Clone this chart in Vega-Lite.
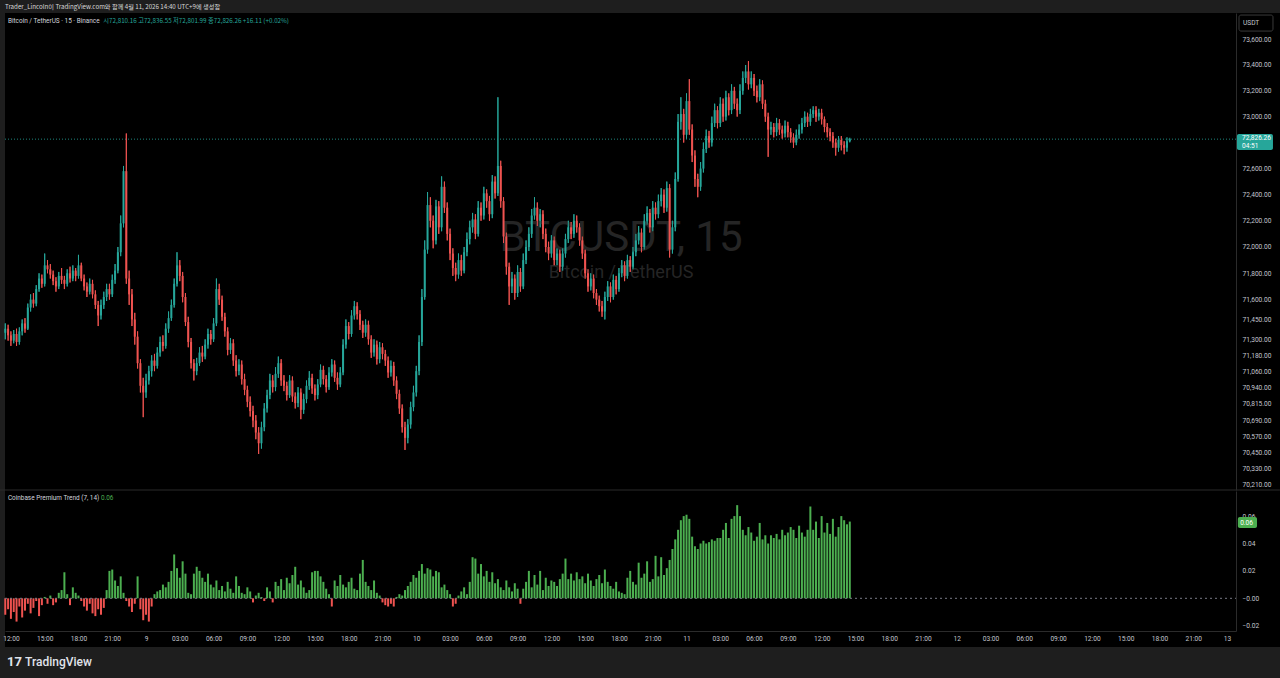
{
"$schema": "https://vega.github.io/schema/vega-lite/v6.json",
"width": 1275,
"height": 634,
"autosize": {"type": "none"},
"padding": {"left": 5, "top": 13, "right": 0, "bottom": 31},
"background": "#1e1e1e",
"config": {"view": {"fill": "#000000", "stroke": null}, "font": "Roboto", "axis": {"grid": false}},
"title": {"text": "Trader_Lincoln이 TradingView.com와 함께 4월 11, 2026 14:40 UTC+9에 생성함", "anchor": "start", "frame": "group", "offset": 3, "fontSize": 6.2, "font": "Noto Sans CJK KR", "fontWeight": "normal", "color": "#d8d8d8"},
"data": {"values": [
{"t":"2026-04-08T11:30Z","o":71350,"h":71420,"l":71300,"c":71380,"p":-0.012},
{"t":"2026-04-08T11:45Z","o":71380,"h":71410,"l":71290,"c":71330,"p":-0.008},
{"t":"2026-04-08T12:00Z","o":71330,"h":71360,"l":71250,"c":71290,"p":-0.015},
{"t":"2026-04-08T12:15Z","o":71290,"h":71370,"l":71270,"c":71340,"p":-0.01},
{"t":"2026-04-08T12:30Z","o":71340,"h":71380,"l":71250,"c":71280,"p":-0.017},
{"t":"2026-04-08T12:45Z","o":71280,"h":71390,"l":71260,"c":71360,"p":-0.006},
{"t":"2026-04-08T13:00Z","o":71360,"h":71450,"l":71330,"c":71420,"p":-0.014},
{"t":"2026-04-08T13:15Z","o":71420,"h":71460,"l":71350,"c":71380,"p":-0.009},
{"t":"2026-04-08T13:30Z","o":71380,"h":71570,"l":71370,"c":71540,"p":-0.004},
{"t":"2026-04-08T13:45Z","o":71540,"h":71640,"l":71510,"c":71600,"p":-0.011},
{"t":"2026-04-08T14:00Z","o":71600,"h":71650,"l":71540,"c":71570,"p":-0.007},
{"t":"2026-04-08T14:15Z","o":71570,"h":71710,"l":71550,"c":71680,"p":-0.002},
{"t":"2026-04-08T14:30Z","o":71680,"h":71800,"l":71660,"c":71760,"p":-0.013},
{"t":"2026-04-08T14:45Z","o":71760,"h":71790,"l":71690,"c":71720,"p":-0.005},
{"t":"2026-04-08T15:00Z","o":71720,"h":71950,"l":71700,"c":71860,"p":0.001},
{"t":"2026-04-08T15:15Z","o":71860,"h":71900,"l":71800,"c":71830,"p":-0.004},
{"t":"2026-04-08T15:30Z","o":71830,"h":71870,"l":71760,"c":71790,"p":0.002},
{"t":"2026-04-08T15:45Z","o":71790,"h":71820,"l":71710,"c":71740,"p":-0.005},
{"t":"2026-04-08T16:00Z","o":71740,"h":71770,"l":71660,"c":71700,"p":-0.003},
{"t":"2026-04-08T16:15Z","o":71700,"h":71810,"l":71680,"c":71780,"p":0.004},
{"t":"2026-04-08T16:30Z","o":71780,"h":71840,"l":71720,"c":71750,"p":0.006},
{"t":"2026-04-08T16:45Z","o":71750,"h":71780,"l":71680,"c":71720,"p":0.019},
{"t":"2026-04-08T17:00Z","o":71720,"h":71830,"l":71700,"c":71800,"p":0.003},
{"t":"2026-04-08T17:15Z","o":71800,"h":71850,"l":71730,"c":71760,"p":-0.005},
{"t":"2026-04-08T17:30Z","o":71760,"h":71860,"l":71740,"c":71820,"p":0.008},
{"t":"2026-04-08T17:45Z","o":71820,"h":71840,"l":71740,"c":71780,"p":0.004},
{"t":"2026-04-08T18:00Z","o":71780,"h":71940,"l":71760,"c":71860,"p":0.002},
{"t":"2026-04-08T18:15Z","o":71860,"h":71880,"l":71740,"c":71760,"p":-0.002},
{"t":"2026-04-08T18:30Z","o":71760,"h":71790,"l":71670,"c":71700,"p":-0.006},
{"t":"2026-04-08T18:45Z","o":71700,"h":71730,"l":71620,"c":71660,"p":-0.009},
{"t":"2026-04-08T19:00Z","o":71660,"h":71760,"l":71640,"c":71720,"p":-0.004},
{"t":"2026-04-08T19:15Z","o":71720,"h":71750,"l":71610,"c":71640,"p":-0.011},
{"t":"2026-04-08T19:30Z","o":71640,"h":71670,"l":71530,"c":71560,"p":-0.013},
{"t":"2026-04-08T19:45Z","o":71560,"h":71590,"l":71400,"c":71480,"p":-0.008},
{"t":"2026-04-08T20:00Z","o":71480,"h":71600,"l":71450,"c":71560,"p":-0.012},
{"t":"2026-04-08T20:15Z","o":71560,"h":71660,"l":71530,"c":71620,"p":-0.007},
{"t":"2026-04-08T20:30Z","o":71620,"h":71720,"l":71590,"c":71680,"p":0.006},
{"t":"2026-04-08T20:45Z","o":71680,"h":71720,"l":71600,"c":71640,"p":0.02},
{"t":"2026-04-08T21:00Z","o":71640,"h":71790,"l":71620,"c":71750,"p":0.021},
{"t":"2026-04-08T21:15Z","o":71750,"h":71870,"l":71720,"c":71820,"p":0.013},
{"t":"2026-04-08T21:30Z","o":71820,"h":72000,"l":71800,"c":71960,"p":0.009},
{"t":"2026-04-08T21:45Z","o":71960,"h":72240,"l":71930,"c":72180,"p":0.016},
{"t":"2026-04-08T22:00Z","o":72180,"h":72620,"l":72150,"c":72580,"p":0.004},
{"t":"2026-04-08T22:15Z","o":72580,"h":72870,"l":71720,"c":71760,"p":-0.002},
{"t":"2026-04-08T22:30Z","o":71760,"h":71820,"l":71560,"c":71640,"p":-0.006},
{"t":"2026-04-08T22:45Z","o":71640,"h":71680,"l":71400,"c":71450,"p":-0.01},
{"t":"2026-04-08T23:00Z","o":71450,"h":71500,"l":71260,"c":71320,"p":-0.004},
{"t":"2026-04-08T23:15Z","o":71320,"h":71360,"l":71080,"c":71120,"p":0.016},
{"t":"2026-04-08T23:30Z","o":71120,"h":71150,"l":70900,"c":70950,"p":-0.008},
{"t":"2026-04-08T23:45Z","o":70950,"h":71010,"l":70715,"c":70900,"p":-0.016},
{"t":"2026-04-09T00:00Z","o":70900,"h":71040,"l":70860,"c":70990,"p":-0.012},
{"t":"2026-04-09T00:15Z","o":70990,"h":71100,"l":70960,"c":71060,"p":-0.017},
{"t":"2026-04-09T00:30Z","o":71060,"h":71180,"l":71020,"c":71140,"p":-0.006},
{"t":"2026-04-09T00:45Z","o":71140,"h":71190,"l":71060,"c":71100,"p":0.003},
{"t":"2026-04-09T01:00Z","o":71100,"h":71240,"l":71080,"c":71200,"p":0.005},
{"t":"2026-04-09T01:15Z","o":71200,"h":71320,"l":71170,"c":71280,"p":0.006},
{"t":"2026-04-09T01:30Z","o":71280,"h":71330,"l":71210,"c":71250,"p":0.01},
{"t":"2026-04-09T01:45Z","o":71250,"h":71420,"l":71230,"c":71380,"p":0.008},
{"t":"2026-04-09T02:00Z","o":71380,"h":71510,"l":71350,"c":71460,"p":0.012},
{"t":"2026-04-09T02:15Z","o":71460,"h":71600,"l":71440,"c":71560,"p":0.02},
{"t":"2026-04-09T02:30Z","o":71560,"h":71760,"l":71540,"c":71720,"p":0.032},
{"t":"2026-04-09T02:45Z","o":71720,"h":71960,"l":71700,"c":71860,"p":0.022},
{"t":"2026-04-09T03:00Z","o":71860,"h":71900,"l":71740,"c":71780,"p":0.015},
{"t":"2026-04-09T03:15Z","o":71780,"h":71810,"l":71580,"c":71620,"p":0.027},
{"t":"2026-04-09T03:30Z","o":71620,"h":71650,"l":71400,"c":71430,"p":0.018},
{"t":"2026-04-09T03:45Z","o":71430,"h":71470,"l":71240,"c":71280,"p":0.004},
{"t":"2026-04-09T04:00Z","o":71280,"h":71310,"l":71080,"c":71120,"p":0.003},
{"t":"2026-04-09T04:15Z","o":71120,"h":71150,"l":70990,"c":71060,"p":0.018},
{"t":"2026-04-09T04:30Z","o":71060,"h":71160,"l":71030,"c":71120,"p":0.023},
{"t":"2026-04-09T04:45Z","o":71120,"h":71240,"l":71100,"c":71200,"p":0.02},
{"t":"2026-04-09T05:00Z","o":71200,"h":71250,"l":71130,"c":71170,"p":0.015},
{"t":"2026-04-09T05:15Z","o":71170,"h":71300,"l":71150,"c":71260,"p":0.012},
{"t":"2026-04-09T05:30Z","o":71260,"h":71380,"l":71230,"c":71340,"p":0.018},
{"t":"2026-04-09T05:45Z","o":71340,"h":71370,"l":71260,"c":71300,"p":0.01},
{"t":"2026-04-09T06:00Z","o":71300,"h":71460,"l":71280,"c":71420,"p":0.008},
{"t":"2026-04-09T06:15Z","o":71420,"h":71760,"l":71400,"c":71680,"p":0.013},
{"t":"2026-04-09T06:30Z","o":71680,"h":71720,"l":71560,"c":71600,"p":0.006},
{"t":"2026-04-09T06:45Z","o":71600,"h":71630,"l":71440,"c":71470,"p":0.009},
{"t":"2026-04-09T07:00Z","o":71470,"h":71500,"l":71320,"c":71360,"p":0.005},
{"t":"2026-04-09T07:15Z","o":71360,"h":71390,"l":71180,"c":71220,"p":0.012},
{"t":"2026-04-09T07:30Z","o":71220,"h":71310,"l":71190,"c":71270,"p":0.007},
{"t":"2026-04-09T07:45Z","o":71270,"h":71300,"l":71100,"c":71140,"p":0.004},
{"t":"2026-04-09T08:00Z","o":71140,"h":71180,"l":71020,"c":71060,"p":0.016},
{"t":"2026-04-09T08:15Z","o":71060,"h":71150,"l":71030,"c":71110,"p":0.009},
{"t":"2026-04-09T08:30Z","o":71110,"h":71140,"l":70960,"c":71000,"p":0.004},
{"t":"2026-04-09T08:45Z","o":71000,"h":71040,"l":70880,"c":70920,"p":0.003},
{"t":"2026-04-09T09:00Z","o":70920,"h":70950,"l":70790,"c":70830,"p":0.008},
{"t":"2026-04-09T09:15Z","o":70830,"h":70870,"l":70720,"c":70760,"p":0.005},
{"t":"2026-04-09T09:30Z","o":70760,"h":70800,"l":70640,"c":70690,"p":-0.003},
{"t":"2026-04-09T09:45Z","o":70690,"h":70730,"l":70550,"c":70600,"p":0.002},
{"t":"2026-04-09T10:00Z","o":70600,"h":70640,"l":70440,"c":70520,"p":0.004},
{"t":"2026-04-09T10:15Z","o":70520,"h":70680,"l":70480,"c":70640,"p":0.001},
{"t":"2026-04-09T10:30Z","o":70640,"h":70820,"l":70610,"c":70780,"p":-0.002},
{"t":"2026-04-09T10:45Z","o":70780,"h":70920,"l":70750,"c":70880,"p":0.008},
{"t":"2026-04-09T11:00Z","o":70880,"h":71040,"l":70850,"c":70990,"p":0.005},
{"t":"2026-04-09T11:15Z","o":70990,"h":71030,"l":70900,"c":70940,"p":-0.003},
{"t":"2026-04-09T11:30Z","o":70940,"h":71090,"l":70910,"c":71040,"p":0.012},
{"t":"2026-04-09T11:45Z","o":71040,"h":71170,"l":71010,"c":71120,"p":0.009},
{"t":"2026-04-09T12:00Z","o":71120,"h":71150,"l":70950,"c":70990,"p":0.014},
{"t":"2026-04-09T12:15Z","o":70990,"h":71030,"l":70910,"c":70950,"p":0.006},
{"t":"2026-04-09T12:30Z","o":70950,"h":70980,"l":70840,"c":70880,"p":0.015},
{"t":"2026-04-09T12:45Z","o":70880,"h":71030,"l":70860,"c":70990,"p":0.011},
{"t":"2026-04-09T13:00Z","o":70990,"h":71020,"l":70830,"c":70870,"p":0.017},
{"t":"2026-04-09T13:15Z","o":70870,"h":70900,"l":70780,"c":70820,"p":0.023},
{"t":"2026-04-09T13:30Z","o":70820,"h":70940,"l":70790,"c":70900,"p":0.01},
{"t":"2026-04-09T13:45Z","o":70900,"h":70930,"l":70700,"c":70770,"p":0.013},
{"t":"2026-04-09T14:00Z","o":70770,"h":70890,"l":70740,"c":70850,"p":0.008},
{"t":"2026-04-09T14:15Z","o":70850,"h":70990,"l":70820,"c":70950,"p":0.004},
{"t":"2026-04-09T14:30Z","o":70950,"h":71060,"l":70920,"c":71010,"p":0.006},
{"t":"2026-04-09T14:45Z","o":71010,"h":71040,"l":70890,"c":70930,"p":0.019},
{"t":"2026-04-09T15:00Z","o":70930,"h":70960,"l":70840,"c":70880,"p":0.02},
{"t":"2026-04-09T15:15Z","o":70880,"h":71000,"l":70850,"c":70960,"p":0.02},
{"t":"2026-04-09T15:30Z","o":70960,"h":71110,"l":70940,"c":71070,"p":0.016},
{"t":"2026-04-09T15:45Z","o":71070,"h":71100,"l":70960,"c":71000,"p":0.012},
{"t":"2026-04-09T16:00Z","o":71000,"h":71030,"l":70900,"c":70940,"p":0.007},
{"t":"2026-04-09T16:15Z","o":70940,"h":71090,"l":70920,"c":71050,"p":0.003},
{"t":"2026-04-09T16:30Z","o":71050,"h":71150,"l":71020,"c":71110,"p":-0.006},
{"t":"2026-04-09T16:45Z","o":71110,"h":71140,"l":70980,"c":71010,"p":0.013},
{"t":"2026-04-09T17:00Z","o":71010,"h":71050,"l":70920,"c":70960,"p":0.009},
{"t":"2026-04-09T17:15Z","o":70960,"h":71090,"l":70940,"c":71050,"p":0.017},
{"t":"2026-04-09T17:30Z","o":71050,"h":71300,"l":71030,"c":71260,"p":0.01},
{"t":"2026-04-09T17:45Z","o":71260,"h":71450,"l":71230,"c":71400,"p":0.008},
{"t":"2026-04-09T18:00Z","o":71400,"h":71430,"l":71300,"c":71340,"p":0.012},
{"t":"2026-04-09T18:15Z","o":71340,"h":71520,"l":71320,"c":71480,"p":0.015},
{"t":"2026-04-09T18:30Z","o":71480,"h":71590,"l":71450,"c":71550,"p":0.007},
{"t":"2026-04-09T18:45Z","o":71550,"h":71580,"l":71450,"c":71490,"p":0.006},
{"t":"2026-04-09T19:00Z","o":71490,"h":71520,"l":71370,"c":71410,"p":0.018},
{"t":"2026-04-09T19:15Z","o":71410,"h":71440,"l":71310,"c":71350,"p":0.028},
{"t":"2026-04-09T19:30Z","o":71350,"h":71450,"l":71320,"c":71410,"p":0.012},
{"t":"2026-04-09T19:45Z","o":71410,"h":71440,"l":71260,"c":71300,"p":0.009},
{"t":"2026-04-09T20:00Z","o":71300,"h":71330,"l":71160,"c":71200,"p":0.006},
{"t":"2026-04-09T20:15Z","o":71200,"h":71300,"l":71170,"c":71260,"p":0.013},
{"t":"2026-04-09T20:30Z","o":71260,"h":71290,"l":71110,"c":71150,"p":0.004},
{"t":"2026-04-09T20:45Z","o":71150,"h":71280,"l":71120,"c":71240,"p":0.002},
{"t":"2026-04-09T21:00Z","o":71240,"h":71270,"l":71150,"c":71190,"p":-0.003},
{"t":"2026-04-09T21:15Z","o":71190,"h":71220,"l":71100,"c":71140,"p":-0.005},
{"t":"2026-04-09T21:30Z","o":71140,"h":71170,"l":71010,"c":71050,"p":-0.006},
{"t":"2026-04-09T21:45Z","o":71050,"h":71140,"l":71020,"c":71100,"p":-0.004},
{"t":"2026-04-09T22:00Z","o":71100,"h":71130,"l":70950,"c":70990,"p":-0.006},
{"t":"2026-04-09T22:15Z","o":70990,"h":71020,"l":70850,"c":70890,"p":0.001},
{"t":"2026-04-09T22:30Z","o":70890,"h":70920,"l":70740,"c":70780,"p":0.003},
{"t":"2026-04-09T22:45Z","o":70780,"h":70810,"l":70600,"c":70640,"p":0.002},
{"t":"2026-04-09T23:00Z","o":70640,"h":70680,"l":70470,"c":70560,"p":0.006},
{"t":"2026-04-09T23:15Z","o":70560,"h":70700,"l":70520,"c":70660,"p":0.009},
{"t":"2026-04-09T23:30Z","o":70660,"h":70830,"l":70630,"c":70790,"p":0.012},
{"t":"2026-04-09T23:45Z","o":70790,"h":70950,"l":70760,"c":70900,"p":0.017},
{"t":"2026-04-10T00:00Z","o":70900,"h":71100,"l":70870,"c":71060,"p":0.015},
{"t":"2026-04-10T00:15Z","o":71060,"h":71330,"l":71030,"c":71280,"p":0.02},
{"t":"2026-04-10T00:30Z","o":71280,"h":71680,"l":71250,"c":71620,"p":0.025},
{"t":"2026-04-10T00:45Z","o":71620,"h":72050,"l":71600,"c":71980,"p":0.018},
{"t":"2026-04-10T01:00Z","o":71980,"h":72420,"l":71950,"c":72320,"p":0.022},
{"t":"2026-04-10T01:15Z","o":72320,"h":72380,"l":72150,"c":72200,"p":0.021},
{"t":"2026-04-10T01:30Z","o":72200,"h":72240,"l":71990,"c":72050,"p":0.016},
{"t":"2026-04-10T01:45Z","o":72050,"h":72360,"l":72020,"c":72310,"p":0.02},
{"t":"2026-04-10T02:00Z","o":72310,"h":72350,"l":72100,"c":72150,"p":0.019},
{"t":"2026-04-10T02:15Z","o":72150,"h":72540,"l":72120,"c":72460,"p":0.008},
{"t":"2026-04-10T02:30Z","o":72460,"h":72500,"l":72260,"c":72300,"p":0.01},
{"t":"2026-04-10T02:45Z","o":72300,"h":72340,"l":72050,"c":72100,"p":0.006},
{"t":"2026-04-10T03:00Z","o":72100,"h":72140,"l":71900,"c":71950,"p":0.003},
{"t":"2026-04-10T03:15Z","o":71950,"h":71990,"l":71780,"c":71840,"p":-0.006},
{"t":"2026-04-10T03:30Z","o":71840,"h":71880,"l":71740,"c":71790,"p":-0.004},
{"t":"2026-04-10T03:45Z","o":71790,"h":71950,"l":71760,"c":71900,"p":0.002},
{"t":"2026-04-10T04:00Z","o":71900,"h":71940,"l":71780,"c":71820,"p":0.005},
{"t":"2026-04-10T04:15Z","o":71820,"h":72000,"l":71800,"c":71960,"p":0.008},
{"t":"2026-04-10T04:30Z","o":71960,"h":72110,"l":71930,"c":72060,"p":0.003},
{"t":"2026-04-10T04:45Z","o":72060,"h":72200,"l":72020,"c":72150,"p":0.012},
{"t":"2026-04-10T05:00Z","o":72150,"h":72260,"l":72110,"c":72210,"p":0.03},
{"t":"2026-04-10T05:15Z","o":72210,"h":72250,"l":72060,"c":72100,"p":0.029},
{"t":"2026-04-10T05:30Z","o":72100,"h":72350,"l":72080,"c":72300,"p":0.018},
{"t":"2026-04-10T05:45Z","o":72300,"h":72340,"l":72200,"c":72240,"p":0.025},
{"t":"2026-04-10T06:00Z","o":72240,"h":72460,"l":72210,"c":72410,"p":0.016},
{"t":"2026-04-10T06:15Z","o":72410,"h":72440,"l":72300,"c":72350,"p":0.02},
{"t":"2026-04-10T06:30Z","o":72350,"h":72390,"l":72200,"c":72250,"p":0.012},
{"t":"2026-04-10T06:45Z","o":72250,"h":72550,"l":72220,"c":72500,"p":0.019},
{"t":"2026-04-10T07:00Z","o":72500,"h":72540,"l":72370,"c":72410,"p":0.011},
{"t":"2026-04-10T07:15Z","o":72410,"h":73150,"l":72390,"c":72620,"p":0.014},
{"t":"2026-04-10T07:30Z","o":72620,"h":72660,"l":72300,"c":72350,"p":0.008},
{"t":"2026-04-10T07:45Z","o":72350,"h":72380,"l":72030,"c":72080,"p":0.006},
{"t":"2026-04-10T08:00Z","o":72080,"h":72110,"l":71790,"c":71850,"p":0.013},
{"t":"2026-04-10T08:15Z","o":71850,"h":71880,"l":71560,"c":71700,"p":0.008},
{"t":"2026-04-10T08:30Z","o":71700,"h":71810,"l":71650,"c":71760,"p":0.005},
{"t":"2026-04-10T08:45Z","o":71760,"h":71790,"l":71600,"c":71650,"p":0.011},
{"t":"2026-04-10T09:00Z","o":71650,"h":71860,"l":71620,"c":71810,"p":0.007},
{"t":"2026-04-10T09:15Z","o":71810,"h":71840,"l":71660,"c":71700,"p":-0.004},
{"t":"2026-04-10T09:30Z","o":71700,"h":71950,"l":71680,"c":71900,"p":0.007},
{"t":"2026-04-10T09:45Z","o":71900,"h":72050,"l":71870,"c":72000,"p":0.012},
{"t":"2026-04-10T10:00Z","o":72000,"h":72150,"l":71970,"c":72100,"p":0.02},
{"t":"2026-04-10T10:15Z","o":72100,"h":72290,"l":72070,"c":72240,"p":0.008},
{"t":"2026-04-10T10:30Z","o":72240,"h":72380,"l":72210,"c":72300,"p":0.017},
{"t":"2026-04-10T10:45Z","o":72300,"h":72340,"l":72160,"c":72200,"p":0.01},
{"t":"2026-04-10T11:00Z","o":72200,"h":72290,"l":72150,"c":72250,"p":0.02},
{"t":"2026-04-10T11:15Z","o":72250,"h":72280,"l":72060,"c":72100,"p":0.006},
{"t":"2026-04-10T11:30Z","o":72100,"h":72140,"l":71960,"c":72000,"p":0.015},
{"t":"2026-04-10T11:45Z","o":72000,"h":72040,"l":71900,"c":71950,"p":0.009},
{"t":"2026-04-10T12:00Z","o":71950,"h":72090,"l":71920,"c":72050,"p":0.013},
{"t":"2026-04-10T12:15Z","o":72050,"h":72080,"l":71860,"c":71900,"p":0.012},
{"t":"2026-04-10T12:30Z","o":71900,"h":71990,"l":71860,"c":71950,"p":0.009},
{"t":"2026-04-10T12:45Z","o":71950,"h":71980,"l":71810,"c":71850,"p":0.014},
{"t":"2026-04-10T13:00Z","o":71850,"h":71990,"l":71820,"c":71950,"p":0.018},
{"t":"2026-04-10T13:15Z","o":71950,"h":72100,"l":71920,"c":72060,"p":0.029},
{"t":"2026-04-10T13:30Z","o":72060,"h":72200,"l":72030,"c":72150,"p":0.014},
{"t":"2026-04-10T13:45Z","o":72150,"h":72190,"l":72060,"c":72100,"p":0.018},
{"t":"2026-04-10T14:00Z","o":72100,"h":72250,"l":72070,"c":72200,"p":0.013},
{"t":"2026-04-10T14:15Z","o":72200,"h":72240,"l":72110,"c":72150,"p":0.019},
{"t":"2026-04-10T14:30Z","o":72150,"h":72180,"l":72010,"c":72050,"p":0.014},
{"t":"2026-04-10T14:45Z","o":72050,"h":72080,"l":71910,"c":71950,"p":0.016},
{"t":"2026-04-10T15:00Z","o":71950,"h":71980,"l":71760,"c":71800,"p":0.011},
{"t":"2026-04-10T15:15Z","o":71800,"h":71830,"l":71660,"c":71700,"p":0.018},
{"t":"2026-04-10T15:30Z","o":71700,"h":71800,"l":71670,"c":71760,"p":0.013},
{"t":"2026-04-10T15:45Z","o":71760,"h":71790,"l":71610,"c":71650,"p":0.009},
{"t":"2026-04-10T16:00Z","o":71650,"h":71680,"l":71560,"c":71600,"p":0.014},
{"t":"2026-04-10T16:15Z","o":71600,"h":71630,"l":71510,"c":71550,"p":0.017},
{"t":"2026-04-10T16:30Z","o":71550,"h":71590,"l":71470,"c":71510,"p":0.011},
{"t":"2026-04-10T16:45Z","o":71510,"h":71660,"l":71450,"c":71620,"p":0.021},
{"t":"2026-04-10T17:00Z","o":71620,"h":71740,"l":71590,"c":71700,"p":0.012},
{"t":"2026-04-10T17:15Z","o":71700,"h":71730,"l":71580,"c":71620,"p":0.009},
{"t":"2026-04-10T17:30Z","o":71620,"h":71790,"l":71600,"c":71750,"p":0.007},
{"t":"2026-04-10T17:45Z","o":71750,"h":71780,"l":71640,"c":71680,"p":0.012},
{"t":"2026-04-10T18:00Z","o":71680,"h":71840,"l":71660,"c":71800,"p":0.005},
{"t":"2026-04-10T18:15Z","o":71800,"h":71900,"l":71770,"c":71860,"p":0.004},
{"t":"2026-04-10T18:30Z","o":71860,"h":71890,"l":71740,"c":71780,"p":0.003},
{"t":"2026-04-10T18:45Z","o":71780,"h":71940,"l":71760,"c":71900,"p":0.015},
{"t":"2026-04-10T19:00Z","o":71900,"h":71930,"l":71810,"c":71850,"p":0.02},
{"t":"2026-04-10T19:15Z","o":71850,"h":72000,"l":71830,"c":71960,"p":0.012},
{"t":"2026-04-10T19:30Z","o":71960,"h":72100,"l":71930,"c":72050,"p":0.01},
{"t":"2026-04-10T19:45Z","o":72050,"h":72160,"l":72020,"c":72110,"p":0.026},
{"t":"2026-04-10T20:00Z","o":72110,"h":72140,"l":71960,"c":72000,"p":0.015},
{"t":"2026-04-10T20:15Z","o":72000,"h":72250,"l":71980,"c":72200,"p":0.018},
{"t":"2026-04-10T20:30Z","o":72200,"h":72310,"l":72170,"c":72260,"p":0.027},
{"t":"2026-04-10T20:45Z","o":72260,"h":72290,"l":72110,"c":72150,"p":0.012},
{"t":"2026-04-10T21:00Z","o":72150,"h":72350,"l":72120,"c":72300,"p":0.014},
{"t":"2026-04-10T21:15Z","o":72300,"h":72340,"l":72210,"c":72250,"p":0.031},
{"t":"2026-04-10T21:30Z","o":72250,"h":72400,"l":72220,"c":72350,"p":0.016},
{"t":"2026-04-10T21:45Z","o":72350,"h":72450,"l":72310,"c":72400,"p":0.03},
{"t":"2026-04-10T22:00Z","o":72400,"h":72440,"l":72260,"c":72300,"p":0.017},
{"t":"2026-04-10T22:15Z","o":72300,"h":72500,"l":72270,"c":72450,"p":0.022},
{"t":"2026-04-10T22:30Z","o":72450,"h":72480,"l":71920,"c":71980,"p":0.028},
{"t":"2026-04-10T22:45Z","o":71980,"h":72200,"l":71950,"c":72150,"p":0.036},
{"t":"2026-04-10T23:00Z","o":72150,"h":72570,"l":72120,"c":72520,"p":0.043},
{"t":"2026-04-10T23:15Z","o":72520,"h":73020,"l":72500,"c":72960,"p":0.05},
{"t":"2026-04-10T23:30Z","o":72960,"h":73150,"l":72900,"c":73020,"p":0.057},
{"t":"2026-04-10T23:45Z","o":73020,"h":73060,"l":72800,"c":72860,"p":0.06},
{"t":"2026-04-11T00:00Z","o":72860,"h":73180,"l":72830,"c":73120,"p":0.061},
{"t":"2026-04-11T00:15Z","o":73120,"h":73290,"l":72860,"c":72900,"p":0.058},
{"t":"2026-04-11T00:30Z","o":72900,"h":72940,"l":72650,"c":72700,"p":0.045},
{"t":"2026-04-11T00:45Z","o":72700,"h":72740,"l":72460,"c":72520,"p":0.038},
{"t":"2026-04-11T01:00Z","o":72520,"h":72560,"l":72380,"c":72460,"p":0.036},
{"t":"2026-04-11T01:15Z","o":72460,"h":72650,"l":72430,"c":72600,"p":0.04},
{"t":"2026-04-11T01:30Z","o":72600,"h":72800,"l":72570,"c":72750,"p":0.042},
{"t":"2026-04-11T01:45Z","o":72750,"h":72900,"l":72720,"c":72850,"p":0.04},
{"t":"2026-04-11T02:00Z","o":72850,"h":72890,"l":72760,"c":72800,"p":0.041},
{"t":"2026-04-11T02:15Z","o":72800,"h":73000,"l":72770,"c":72950,"p":0.043},
{"t":"2026-04-11T02:30Z","o":72950,"h":73100,"l":72920,"c":73050,"p":0.042},
{"t":"2026-04-11T02:45Z","o":73050,"h":73080,"l":72910,"c":72950,"p":0.044},
{"t":"2026-04-11T03:00Z","o":72950,"h":73150,"l":72920,"c":73100,"p":0.044},
{"t":"2026-04-11T03:15Z","o":73100,"h":73140,"l":72960,"c":73000,"p":0.05},
{"t":"2026-04-11T03:30Z","o":73000,"h":73200,"l":72970,"c":73150,"p":0.055},
{"t":"2026-04-11T03:45Z","o":73150,"h":73180,"l":73010,"c":73050,"p":0.044},
{"t":"2026-04-11T04:00Z","o":73050,"h":73250,"l":73020,"c":73200,"p":0.058},
{"t":"2026-04-11T04:15Z","o":73200,"h":73230,"l":73060,"c":73100,"p":0.06},
{"t":"2026-04-11T04:30Z","o":73100,"h":73140,"l":73000,"c":73050,"p":0.068},
{"t":"2026-04-11T04:45Z","o":73050,"h":73250,"l":73020,"c":73200,"p":0.06},
{"t":"2026-04-11T05:00Z","o":73200,"h":73350,"l":73170,"c":73300,"p":0.05},
{"t":"2026-04-11T05:15Z","o":73300,"h":73400,"l":73260,"c":73350,"p":0.046},
{"t":"2026-04-11T05:30Z","o":73350,"h":73430,"l":73210,"c":73250,"p":0.052},
{"t":"2026-04-11T05:45Z","o":73250,"h":73350,"l":73220,"c":73300,"p":0.048},
{"t":"2026-04-11T06:00Z","o":73300,"h":73330,"l":73160,"c":73200,"p":0.042},
{"t":"2026-04-11T06:15Z","o":73200,"h":73240,"l":73110,"c":73150,"p":0.045},
{"t":"2026-04-11T06:30Z","o":73150,"h":73290,"l":73120,"c":73250,"p":0.055},
{"t":"2026-04-11T06:45Z","o":73250,"h":73280,"l":73060,"c":73100,"p":0.043},
{"t":"2026-04-11T07:00Z","o":73100,"h":73130,"l":72960,"c":73000,"p":0.046},
{"t":"2026-04-11T07:15Z","o":73000,"h":73030,"l":72690,"c":72900,"p":0.04},
{"t":"2026-04-11T07:30Z","o":72900,"h":72960,"l":72860,"c":72920,"p":0.046},
{"t":"2026-04-11T07:45Z","o":72920,"h":72950,"l":72840,"c":72880,"p":0.044},
{"t":"2026-04-11T08:00Z","o":72880,"h":72990,"l":72850,"c":72950,"p":0.047},
{"t":"2026-04-11T08:15Z","o":72950,"h":72980,"l":72860,"c":72900,"p":0.043},
{"t":"2026-04-11T08:30Z","o":72900,"h":72930,"l":72830,"c":72870,"p":0.05},
{"t":"2026-04-11T08:45Z","o":72870,"h":72970,"l":72840,"c":72930,"p":0.046},
{"t":"2026-04-11T09:00Z","o":72930,"h":72960,"l":72840,"c":72880,"p":0.048},
{"t":"2026-04-11T09:15Z","o":72880,"h":72910,"l":72800,"c":72840,"p":0.052},
{"t":"2026-04-11T09:30Z","o":72840,"h":72870,"l":72760,"c":72800,"p":0.05},
{"t":"2026-04-11T09:45Z","o":72800,"h":72900,"l":72780,"c":72860,"p":0.044},
{"t":"2026-04-11T10:00Z","o":72860,"h":72940,"l":72830,"c":72900,"p":0.053},
{"t":"2026-04-11T10:15Z","o":72900,"h":72990,"l":72870,"c":72950,"p":0.048},
{"t":"2026-04-11T10:30Z","o":72950,"h":73040,"l":72920,"c":73000,"p":0.045},
{"t":"2026-04-11T10:45Z","o":73000,"h":73030,"l":72920,"c":72960,"p":0.05},
{"t":"2026-04-11T11:00Z","o":72960,"h":73060,"l":72930,"c":73020,"p":0.067},
{"t":"2026-04-11T11:15Z","o":73020,"h":73080,"l":72990,"c":73050,"p":0.05},
{"t":"2026-04-11T11:30Z","o":73050,"h":73080,"l":72960,"c":73000,"p":0.056},
{"t":"2026-04-11T11:45Z","o":73000,"h":73060,"l":72970,"c":73030,"p":0.044},
{"t":"2026-04-11T12:00Z","o":73030,"h":73060,"l":72940,"c":72980,"p":0.06},
{"t":"2026-04-11T12:15Z","o":72980,"h":73000,"l":72880,"c":72920,"p":0.048},
{"t":"2026-04-11T12:30Z","o":72920,"h":72950,"l":72840,"c":72880,"p":0.055},
{"t":"2026-04-11T12:45Z","o":72880,"h":72910,"l":72810,"c":72850,"p":0.047},
{"t":"2026-04-11T13:00Z","o":72850,"h":72880,"l":72760,"c":72800,"p":0.058},
{"t":"2026-04-11T13:15Z","o":72800,"h":72830,"l":72700,"c":72760,"p":0.045},
{"t":"2026-04-11T13:30Z","o":72760,"h":72850,"l":72730,"c":72820,"p":0.052},
{"t":"2026-04-11T13:45Z","o":72820,"h":72850,"l":72740,"c":72780,"p":0.06},
{"t":"2026-04-11T14:00Z","o":72780,"h":72810,"l":72710,"c":72760,"p":0.057},
{"t":"2026-04-11T14:15Z","o":72760,"h":72840,"l":72730,"c":72810.16,"p":0.054},
{"t":"2026-04-11T14:30Z","o":72810.16,"h":72836.55,"l":72801.99,"c":72826.26,"p":0.056}
]},
"resolve": {"scale": {"y": "independent"}},
"layer": [
{"layer": [
{"mark": {"type": "rule", "strokeWidth": 1},
 "encoding": {
  "x": {"field": "t", "type": "temporal",
   "scale": {"type": "utc", "domain": [1775647710000, 1776041280000], "range": [0, 1231], "nice": false, "padding": 0},
   "axis": {"orient": "bottom", "offset": -16, "tickCount": 60, "values": [1775649600000,1775660400000,1775671200000,1775682000000,1775692800000,1775703600000,1775714400000,1775725200000,1775736000000,1775746800000,1775757600000,1775768400000,1775779200000,1775790000000,1775800800000,1775811600000,1775822400000,1775833200000,1775844000000,1775854800000,1775865600000,1775876400000,1775887200000,1775898000000,1775908800000,1775919600000,1775930400000,1775941200000,1775952000000,1775962800000,1775973600000,1775984400000,1775995200000,1776006000000,1776016800000,1776027600000,1776038400000], "labelExpr": "utchours(datum.value) == 0 ? '' + utcdate(datum.value) : utcFormat(datum.value, '%H:%M')", "labelColor": "#c3c6ce", "labelFontSize": 6.6, "labelPadding": 4, "ticks": false, "domainColor": "#2b2b2b", "title": null, "labelFlush": false, "labelOverlap": false, "grid": false}},
  "y": {"field": "l", "type": "quantitative",
   "scale": {"type": "log", "domain": [70172, 73805], "range": [477, 0], "nice": false},
   "axis": {"orient": "right", "offset": -44, "tickCount": 40, "values": [73600, 73400, 73200, 73000, 72600, 72400, 72200, 72000, 71800, 71600, 71450, 71300, 71180, 71060, 70940, 70815, 70690, 70570, 70450, 70330, 70210], "format": ",.2f", "labelColor": "#c3c6ce", "labelFontSize": 6.6, "labelPadding": 6, "ticks": false, "domainColor": "#2b2b2b", "title": null, "labelOverlap": false, "labelFlush": false, "grid": false}},
  "y2": {"field": "h"},
  "color": {"condition": {"test": "datum.c >= datum.o", "value": "#26a69a"}, "value": "#ef5350"}
 }},
{"data": {"values": [{}]}, "mark": {"type": "text", "fontSize": 42, "color": "#252525", "align": "center", "baseline": "middle"},
 "encoding": {"x": {"datum": 1775844660000, "type": "temporal"}, "y": {"datum": 72069, "type": "quantitative"}, "text": {"value": "BTCUSDT, 15"}}},
{"data": {"values": [{}]}, "mark": {"type": "text", "fontSize": 18, "color": "#252525", "align": "center", "baseline": "middle"},
 "encoding": {"x": {"datum": 1775844660000, "type": "temporal"}, "y": {"datum": 71802, "type": "quantitative"}, "text": {"value": "Bitcoin / TetherUS"}}},
{"data": {"values": [{}]}, "mark": {"type": "rule", "color": "#26a69a", "strokeDash": [1, 2], "opacity": 0.8},
 "encoding": {"x": {"datum": 1775647710000, "type": "temporal"}, "x2": {"datum": 1776041280000}, "y": {"datum": 72826.26, "type": "quantitative"}}},
{"mark": {"type": "rule", "strokeWidth": 1},
 "encoding": {"x": {"field": "t", "type": "temporal"}, "y": {"field": "l", "type": "quantitative"}, "y2": {"field": "h"},
  "color": {"condition": {"test": "datum.c >= datum.o", "value": "#26a69a"}, "value": "#ef5350"}}},
{"mark": {"type": "bar", "size": 2},
 "encoding": {"x": {"field": "t", "type": "temporal"}, "y": {"field": "o", "type": "quantitative"}, "y2": {"field": "c"},
  "color": {"condition": {"test": "datum.c >= datum.o", "value": "#26a69a"}, "value": "#ef5350"}}},
{"data": {"values": [{}]}, "mark": {"type": "rect", "fill": "#000000", "stroke": "#3a3a3a", "strokeWidth": 1, "cornerRadius": 2},
 "encoding": {"x": {"datum": 1776042240000, "type": "temporal"}, "x2": {"datum": 1776053100000}, "y": {"datum": 73789, "type": "quantitative"}, "y2": {"datum": 73664}}},
{"data": {"values": [{}]}, "mark": {"type": "text", "fontSize": 6.6, "color": "#c3c6ce", "align": "left", "baseline": "middle"},
 "encoding": {"x": {"datum": 1776043500000, "type": "temporal"}, "y": {"datum": 73727, "type": "quantitative"}, "text": {"value": "USDT"}}},
{"data": {"values": [{}]}, "mark": {"type": "rect", "fill": "#26a69a", "cornerRadius": 2},
 "encoding": {"x": {"datum": 1776041580000, "type": "temporal"}, "x2": {"datum": 1776053100000}, "y": {"datum": 72866, "type": "quantitative"}, "y2": {"datum": 72743}}},
{"data": {"values": [{}]}, "mark": {"type": "text", "fontSize": 6.6, "color": "#ffffff", "align": "left", "baseline": "middle"},
 "encoding": {"x": {"datum": 1776043200000, "type": "temporal"}, "y": {"datum": 72836, "type": "quantitative"}, "text": {"value": "72,826.26"}}},
{"data": {"values": [{}]}, "mark": {"type": "text", "fontSize": 6.6, "color": "#ffffff", "align": "left", "baseline": "middle"},
 "encoding": {"x": {"datum": 1776043200000, "type": "temporal"}, "y": {"datum": 72774, "type": "quantitative"}, "text": {"value": "04:51"}}},
{"data": {"values": [{}]}, "mark": {"type": "text", "fontSize": 6.45, "color": "#d1d4dc", "align": "left", "baseline": "middle"},
 "encoding": {"x": {"datum": 1775648640000, "type": "temporal"}, "y": {"datum": 73743, "type": "quantitative"}, "text": {"value": "Bitcoin / TetherUS · 15 · Binance"}}},
{"data": {"values": [{}]}, "mark": {"type": "text", "fontSize": 6.25, "color": "#26a69a", "align": "left", "baseline": "middle", "font": "Noto Sans CJK KR"},
 "encoding": {"x": {"datum": 1775679120000, "type": "temporal"}, "y": {"datum": 73743, "type": "quantitative"}, "text": {"value": "시72,810.16  고72,836.55  저72,801.99  종72,826.26  +16.11 (+0.02%)"}}},
{"data": {"values": [{}]}, "mark": {"type": "rule", "color": "#2b2b2b", "strokeWidth": 1},
 "encoding": {"x": {"datum": 1775646000000, "type": "temporal"}, "x2": {"datum": 1776055320000}, "y": {"datum": 70172, "type": "quantitative"}}}
]},
{"layer": [
{"mark": {"type": "bar", "size": 2},
 "encoding": {"x": {"field": "t", "type": "temporal"},
  "y": {"field": "p", "type": "quantitative", "scale": {"type": "linear", "domain": [-0.02387, 0.07832], "range": [618, 478], "nice": false, "zero": false},
   "axis": {"orient": "right", "offset": -44, "tickCount": 20, "values": [-0.02, 0, 0.02, 0.04, 0.06], "labelExpr": "datum.value == 0 ? '−0.00' : format(datum.value, '.2f')", "labelColor": "#c3c6ce", "labelFontSize": 6.6, "labelPadding": 6, "ticks": false, "domainColor": "#2b2b2b", "title": null, "grid": false, "labelOverlap": false, "labelFlush": false}},
  "y2": {"datum": 0},
  "color": {"condition": {"test": "datum.p >= 0", "value": "#4caf50"}, "value": "#ef5350"}}},
{"data": {"values": [{}]}, "mark": {"type": "rule", "color": "#787b86", "strokeDash": [2, 3], "strokeWidth": 1},
 "encoding": {"x": {"datum": 1775647710000, "type": "temporal"}, "x2": {"datum": 1776041280000}, "y": {"datum": 0, "type": "quantitative"}}},
{"data": {"values": [{}]}, "mark": {"type": "rect", "fill": "#4caf50", "cornerRadius": 2},
 "encoding": {"x": {"datum": 1776041880000, "type": "temporal"}, "x2": {"datum": 1776048000000}, "y": {"datum": 0.0593, "type": "quantitative"}, "y2": {"datum": 0.0513}}},
{"data": {"values": [{}]}, "mark": {"type": "text", "fontSize": 6.6, "color": "#ffffff", "align": "left", "baseline": "middle"},
 "encoding": {"x": {"datum": 1776042600000, "type": "temporal"}, "y": {"datum": 0.0553, "type": "quantitative"}, "text": {"value": "0.06"}}},
{"data": {"values": [{}]}, "mark": {"type": "text", "fontSize": 6.4, "color": "#d1d4dc", "align": "left", "baseline": "middle"},
 "encoding": {"x": {"datum": 1775648640000, "type": "temporal"}, "y": {"datum": 0.0732, "type": "quantitative"}, "text": {"value": "Coinbase Premium Trend (7, 14)"}}},
{"data": {"values": [{}]}, "mark": {"type": "text", "fontSize": 6.4, "color": "#4caf50", "align": "left", "baseline": "middle"},
 "encoding": {"x": {"datum": 1775678400000, "type": "temporal"}, "y": {"datum": 0.0732, "type": "quantitative"}, "text": {"value": "0.06"}}},
{"data": {"values": [{}]}, "mark": {"type": "text", "fontSize": 13, "fontWeight": "bold", "color": "#e0e3eb", "align": "left", "baseline": "middle"},
 "encoding": {"x": {"datum": 1775648340000, "type": "temporal"}, "y": {"datum": -0.0465, "type": "quantitative"}, "text": {"value": "17"}}},
{"data": {"values": [{}]}, "mark": {"type": "text", "fontSize": 12, "fontWeight": 500, "color": "#e0e3eb", "align": "left", "baseline": "middle"},
 "encoding": {"x": {"datum": 1775654100000, "type": "temporal"}, "y": {"datum": -0.0465, "type": "quantitative"}, "text": {"value": "TradingView"}}}
]}
]
}
